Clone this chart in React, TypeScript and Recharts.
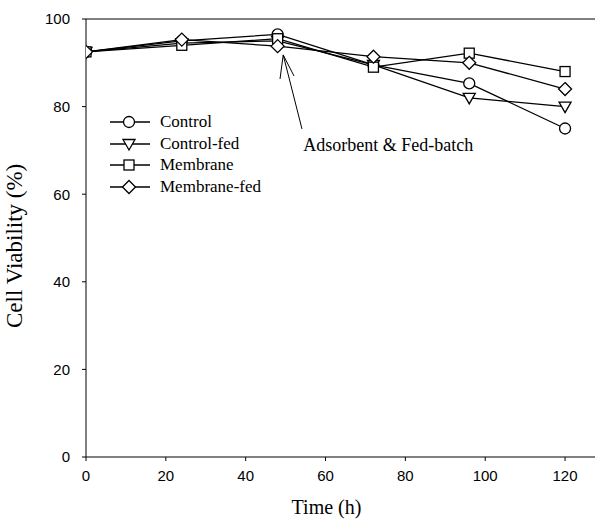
import { LineChart, Line, XAxis, YAxis, ReferenceLine, ReferenceDot } from "recharts"

const hours = [0, 24, 48, 72, 96, 120]
const control = [92.5, 95, 96.5, 89.5, 85.3, 75]
const controlFed = [92.5, 94.5, 95, 89.5, 82, 80]
const membrane = [92.5, 94, 95.5, 89, 92.2, 88]
const membraneFed = [92.5, 95.3, 93.8, 91.4, 90, 84]

const xTicks = [0, 20, 40, 60, 80, 100, 120]
const yTicks = [0, 20, 40, 60, 80, 100]

const data = hours.map((h, i) => ({
  time: h,
  control: control[i],
  controlFed: controlFed[i],
  membrane: membrane[i],
  membraneFed: membraneFed[i],
}))

const serif = "'Liberation Serif', 'DejaVu Serif', serif"
const sans = "'Liberation Sans', Arial, sans-serif"

type Shape = "circle" | "triangle" | "square" | "diamond"

function Marker({ cx, cy, shape }: { cx: number; cy: number; shape: Shape }) {
  const s = { fill: "#fff", stroke: "#000", strokeWidth: 1.3 }
  if (shape === "circle") return <circle cx={cx} cy={cy} r={5.5} {...s} />
  if (shape === "square") return <rect x={cx - 5} y={cy - 5} width={10} height={10} {...s} />
  if (shape === "triangle")
    return <polygon points={`${cx - 6},${cy - 4.5} ${cx + 6},${cy - 4.5} ${cx},${cy + 6}`} {...s} />
  return <polygon points={`${cx},${cy - 6.5} ${cx + 6.5},${cy} ${cx},${cy + 6.5} ${cx - 6.5},${cy}`} {...s} />
}

const dot = (shape: Shape) => (p: any) =>
  <Marker key={`${shape}-${p.index}`} cx={p.cx} cy={p.cy} shape={shape} />

const series: { key: string; name: string; shape: Shape }[] = [
  { key: "control", name: "Control", shape: "circle" },
  { key: "controlFed", name: "Control-fed", shape: "triangle" },
  { key: "membrane", name: "Membrane", shape: "square" },
  { key: "membraneFed", name: "Membrane-fed", shape: "diamond" },
]

// legend sits inside the plot, drawn as plain html over the svg
function LegendBox() {
  return (
    <div style={{ position: "absolute", left: 110, top: 111, fontFamily: serif, fontSize: 17, color: "#000" }}>
      {series.map((s) => (
        <div key={s.key} style={{ display: "flex", alignItems: "center", height: 21.7 }}>
          <svg width={44} height={16} style={{ marginRight: 6 }}>
            <line x1={0} y1={8} x2={40} y2={8} stroke="#000" strokeWidth={1.3} />
            <Marker cx={19} cy={8} shape={s.shape} />
          </svg>
          <span>{s.name}</span>
        </div>
      ))}
    </div>
  )
}

export default function App() {
  return (
    <div style={{ position: "absolute", left: 0, top: 0, width: 597, height: 519, background: "#fff" }}>
      <LineChart width={597} height={519} data={data} margin={{ top: 19, right: 2, bottom: 0, left: 0 }}>
        <XAxis
          dataKey="time"
          type="number"
          domain={[0, 127.5]}
          ticks={xTicks}
          allowDataOverflow
          height={62}
          stroke="#000"
          tickSize={4}
          tickMargin={9}
          tick={{ fill: "#000", fontSize: 15, fontFamily: sans }}
          label={{
            value: "Time (h)",
            position: "insideBottom",
            offset: 5,
            dx: -14,
            fill: "#000",
            fontSize: 20,
            fontFamily: serif,
          }}
        />
        <YAxis
          type="number"
          domain={[0, 100]}
          ticks={yTicks}
          width={86}
          stroke="#000"
          tickSize={4}
          tickMargin={12}
          tick={{ fill: "#000", fontSize: 15, fontFamily: sans }}
          label={{
            value: "Cell Viability (%)",
            angle: -90,
            position: "insideLeft",
            offset: 14,
            dy: 90,
            fill: "#000",
            fontSize: 23,
            fontFamily: serif,
          }}
        />
        <ReferenceLine y={100} stroke="#000" strokeWidth={1.2} />
        <ReferenceLine segment={[{ x: 54.1, y: 74.9 }, { x: 49.4, y: 91.8 }]} stroke="#000" strokeWidth={1} />
        <ReferenceLine segment={[{ x: 48.6, y: 86.3 }, { x: 49.4, y: 91.8 }]} stroke="#000" strokeWidth={1} />
        <ReferenceLine segment={[{ x: 52.1, y: 87.0 }, { x: 49.4, y: 91.8 }]} stroke="#000" strokeWidth={1} />
        <ReferenceDot
          x={54.4}
          y={71.2}
          r={0}
          shape={(p: any) => (
            <text x={p.cx} y={p.cy} dy="0.35em" fontFamily={serif} fontSize={18} fill="#000">
              Adsorbent &amp; Fed-batch
            </text>
          )}
        />
        {series.map((s) => (
          <Line
            key={s.key}
            dataKey={s.key}
            name={s.name}
            stroke="#000"
            strokeWidth={1.3}
            dot={dot(s.shape)}
            activeDot={false}
            isAnimationActive={false}
          />
        ))}
      </LineChart>
      <LegendBox />
    </div>
  )
}
